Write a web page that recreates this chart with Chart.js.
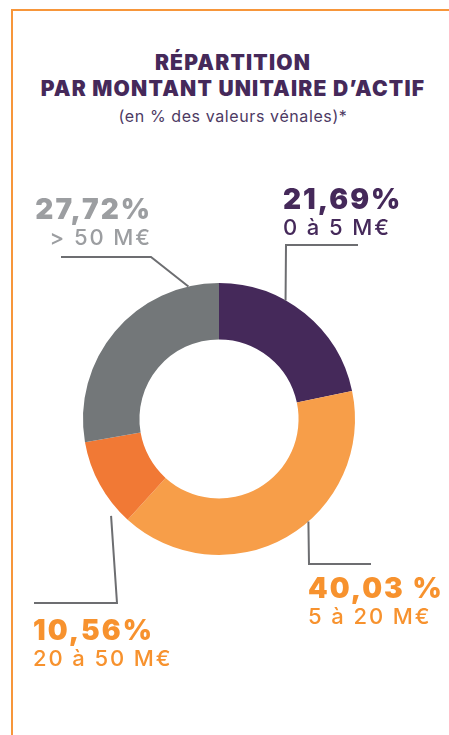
<!DOCTYPE html>
<html lang="fr">
<head>
<meta charset="utf-8">
<title>Répartition par montant unitaire d'actif</title>
<script src="https://cdn.jsdelivr.net/npm/chart.js@4.4.1/dist/chart.umd.min.js"></script>
<style>
  html, body { margin: 0; padding: 0; background: #fff; }
  body { width: 449px; height: 735px; position: relative; overflow: hidden; font-family: Inter, "Noto Sans", sans-serif; }
  .frame { position: absolute; left: 11px; top: 9px; right: -10px; bottom: -10px; border: 2px solid #f7963a; }
  .head { position: absolute; left: 17px; width: 432px; top: 50px; text-align: center; color: #45295a; }
  .head h1 { margin: 0; font-size: 21px; font-weight: 900; line-height: 26px; letter-spacing: 1.2px; }
  .head p { margin: 4px 0 0; font-size: 16px; font-weight: 400; line-height: 20px; letter-spacing: 0.6px; color: #4d3a63; }
  #wrap { position: absolute; left: 0; top: 0; width: 449px; height: 735px; }
</style>
</head>
<body>
<div class="frame"></div>
<div class="head">
  <h1>RÉPARTITION<br>PAR MONTANT UNITAIRE D’ACTIF</h1>
  <p>(en % des valeurs vénales)*</p>
</div>
<div id="wrap"><canvas id="myChart" width="449" height="735"></canvas></div>
<script>
// data
const categories = ["0 à 5 M€", "5 à 20 M€", "20 à 50 M€", "> 50 M€"];
const shares = [21.69, 40.03, 10.56, 27.72];
const pctGap = ["", " ", "", ""];

// colours
const sliceColors = ["#45295a", "#f79e49", "#f17935", "#737779"];
const textColors = ["#45295a", "#f7922e", "#f7922e", "#9c9ea1"];

// where each label sits and how its leader reaches the ring
// ring: angle on the outer edge (deg, clockwise from top), gap: px left free
const labelSpots = [
  { x: 283, y: 209, align: "left", ring: 29.3, gap: 0, elbow: [[286, 245], [358, 245]] },
  { x: 308, y: 598, align: "left", ring: 138.9, gap: 0, elbow: [[309, 564], [371, 564]] },
  { x: 33, y: 640, align: "left", ring: 228.1, gap: 9, elbow: [[117, 603], [34, 603]] },
  { x: 152, y: 219, align: "right", ring: 347, gap: 0, elbow: [[151, 257], [61, 257]] },
];

const fmt = (v, i) => v.toFixed(2).replace(".", ",") + pctGap[i] + "%";

const labelPlugin = {
  id: "labels",
  afterDatasetsDraw(chart) {
    const ctx = chart.ctx;
    const arc = chart.getDatasetMeta(0).data[0];
    const cx = arc.x, cy = arc.y, r = arc.outerRadius;
    ctx.save();
    labelSpots.forEach((s, i) => {
      // leader line
      const a = (s.ring * Math.PI) / 180;
      const rr = r + s.gap;
      ctx.beginPath();
      ctx.moveTo(cx + rr * Math.sin(a), cy - rr * Math.cos(a));
      s.elbow.forEach((p) => ctx.lineTo(p[0], p[1]));
      ctx.strokeStyle = "#6d6e71";
      ctx.lineWidth = 2;
      ctx.stroke();

      // texts
      ctx.fillStyle = textColors[i];
      ctx.textAlign = s.align;
      ctx.textBaseline = "alphabetic";
      ctx.font = "900 28px Inter";
      ctx.letterSpacing = "2px";
      ctx.fillText(fmt(shares[i], i), s.x, s.y);
      ctx.font = "500 22px Inter";
      ctx.letterSpacing = "1.9px";
      ctx.fillText(categories[i], s.x, s.y + 26);
    });
    ctx.restore();
  },
};

var ctx = document.getElementById("myChart").getContext("2d");
var myChart = new Chart(ctx, {
  type: "doughnut",
  data: {
    labels: categories,
    datasets: [
      {
        data: shares,
        backgroundColor: sliceColors,
        borderWidth: 0,
        hoverOffset: 0,
      },
    ],
  },
  options: {
    responsive: false,
    animation: false,
    events: [],
    cutout: "58.5%",
    layout: { padding: { left: 83, right: 94, top: 283, bottom: 180 } },
    plugins: {
      legend: { display: false },
      tooltip: { enabled: false },
      title: { display: false },
    },
  },
  plugins: [labelPlugin],
});
</script>
</body>
</html>
